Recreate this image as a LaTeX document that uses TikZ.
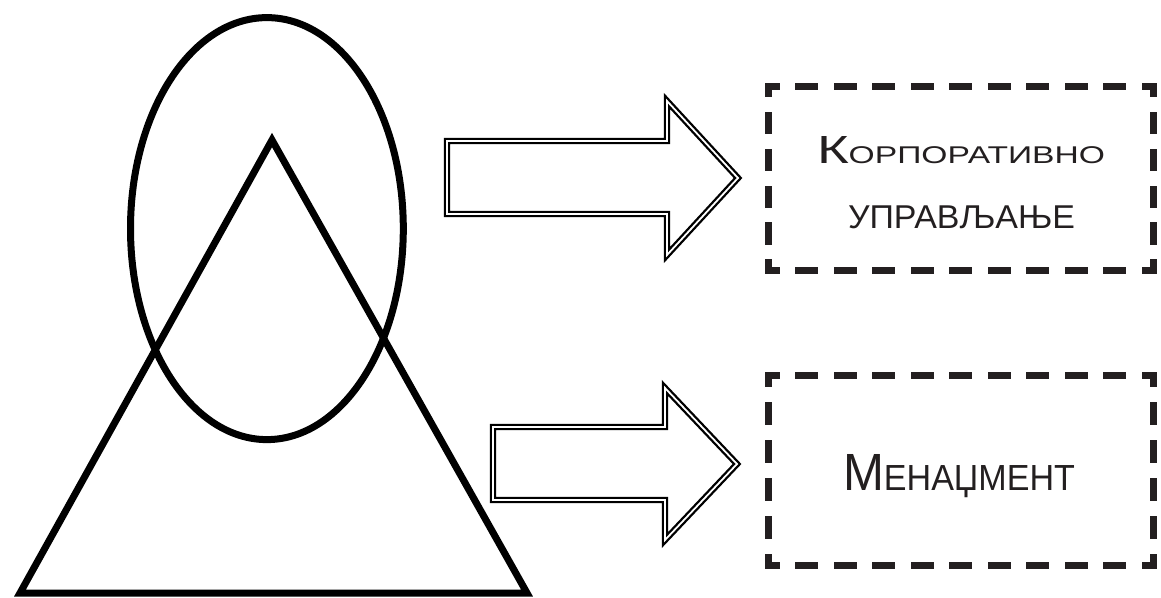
\documentclass[tikz,border=0pt]{standalone}
\usepackage{fontspec}
\setmainfont{Liberation Sans}
\usepackage{graphicx}
\definecolor{ink}{RGB}{35,31,32}
\tikzset{
  shapeline/.style={line width=7pt, line join=miter, draw=black},
  dblarrow/.style={draw=black, double=white, line width=2.3pt, double distance=1.8pt, line join=miter, miter limit=10},
  boxframe/.style={draw=none, minimum width=#1, inner sep=0pt},
  hside/.style={draw=ink, line width=7pt, line cap=rect, dash pattern=on 16.1pt off 22.4pt, dash phase=8.05pt},
  vsideA/.style={draw=ink, line width=7pt, line cap=rect, dash pattern=on 15.1pt off 21.7pt, dash phase=7.55pt},
  vsideB/.style={draw=ink, line width=7pt, line cap=rect, dash pattern=on 15.8pt off 22.2pt, dash phase=7.9pt},
  label/.style={anchor=base, inner sep=0pt, text=ink},
}
\begin{document}
\begin{tikzpicture}[x=1pt,y=-1pt]
\useasboundingbox (0,0) rectangle (1161,597);
% ellipse and triangle
\draw[shapeline] (266.9,228.6) ellipse [x radius=136.4, y radius=211];
\coordinate (apex) at (272,140);
\coordinate (bl) at (20,593);
\coordinate (br) at (527,593);
\draw[shapeline] (apex) -- (br) -- (bl) -- cycle;
% arrows
\draw[dblarrow] (447,141) -- (667,141) -- (667,101) -- (738,178) -- (667,255) -- (667,214) -- (447,214) -- cycle;
\draw[dblarrow] (493,427) -- (665,427) -- (665,388) -- (737,464) -- (665,540) -- (665,500) -- (493,500) -- cycle;
% boxes
\node[boxframe=385pt, minimum height=184pt] (box1) at (961,178.5) {};
\node[boxframe=385pt, minimum height=190pt] (box2) at (961,470.5) {};
\draw[hside] (box1.north west) -- (box1.north east);
\draw[hside] (box1.south west) -- (box1.south east);
\draw[vsideA] (box1.north west) -- (box1.south west);
\draw[vsideA] (box1.north east) -- (box1.south east);
\draw[hside] (box2.north west) -- (box2.north east);
\draw[hside] (box2.south west) -- (box2.south east);
\draw[vsideB] (box2.north west) -- (box2.south west);
\draw[vsideB] (box2.north east) -- (box2.south east);
% texts
\node[label] (t1) at (961,163) {\resizebox{288pt}{27pt}{{\fontsize{30}{30}\selectfont К}{\fontsize{18.5}{20}\selectfont ОРПОРАТИВНО}}};
\node[label] (t2) at (961.5,228) {\resizebox{227pt}{22.7pt}{\fontsize{20}{22}\selectfont УПРАВЉАЊЕ}};
\node[label] (t3) at (959,490) {\resizebox{232pt}{36pt}{{\fontsize{30}{30}\selectfont М}{\fontsize{20.8}{22}\selectfont ЕНАЏМЕНТ}}};
\end{tikzpicture}
\end{document}
